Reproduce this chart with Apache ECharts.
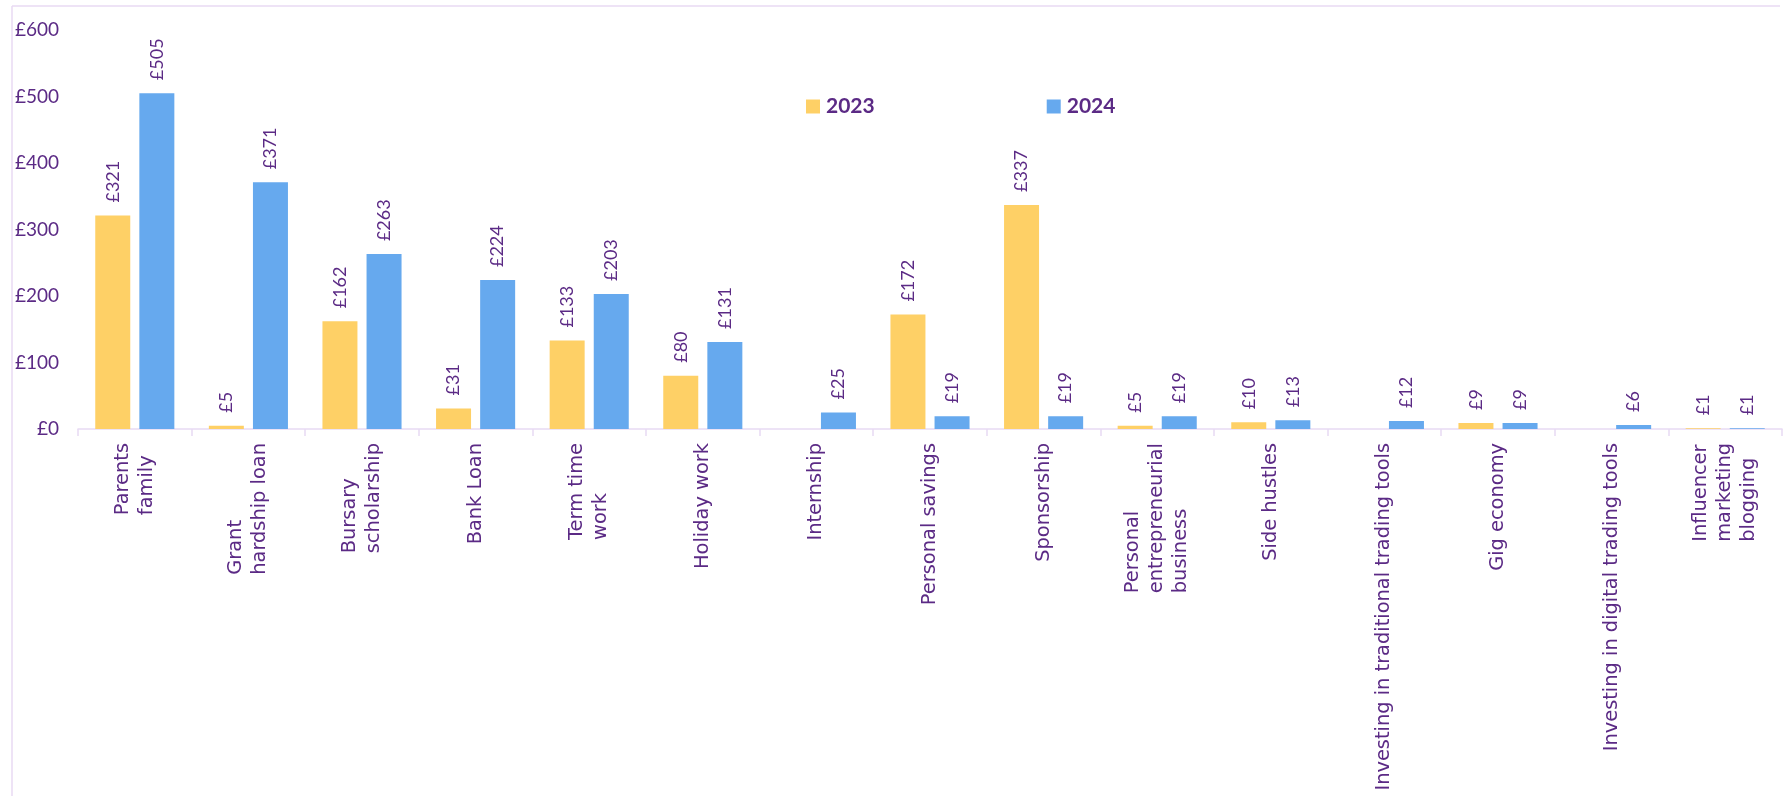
<!DOCTYPE html>
<html>
<head>
<meta charset="utf-8">
<script src="https://cdn.jsdelivr.net/npm/echarts@6/dist/echarts.min.js"></script>
<style>
html,body{margin:0;padding:0;background:#fff;}
#chart{width:1785px;height:796px;}
</style>
</head>
<body>
<div id="chart"></div>
<script>
const categories = [
  "Parents\nfamily",
  "Grant\nhardship loan",
  "Bursary\nscholarship",
  "Bank Loan",
  "Term time\nwork",
  "Holiday work",
  "Internship",
  "Personal savings",
  "Sponsorship",
  "Personal\nentrepreneurial\nbusiness",
  "Side hustles",
  "Investing in traditional trading tools",
  "Gig economy",
  "Investing in digital trading tools",
  "Influencer\nmarketing\nblogging"
];
const values2023 = [321, 5, 162, 31, 133, 80, null, 172, 337, 5, 10, null, 9, null, 1];
const values2024 = [505, 371, 263, 224, 203, 131, 25, 19, 19, 19, 13, 12, 9, 6, 1];
const seriesNames = ["2023", "2024"];
const yTicks = { min: 0, max: 600, interval: 100 };

const PURPLE = '#5B2A85';
const YELLOW = '#FED066';
const BLUE = '#66A9EE';
const LINE = '#E8DAF3';

const chart = echarts.init(document.getElementById('chart'));

const valueLabel = {
  show: true,
  position: 'top',
  rotate: 90,
  align: 'left',
  verticalAlign: 'middle',
  distance: 13,
  color: PURPLE,
  fontFamily: 'Lato',
  fontSize: 18,
  formatter: p => (p.value == null ? '' : '£' + p.value)
};

chart.setOption({
  animation: false,
  backgroundColor: '#fff',
  graphic: [
    { type: 'line', shape: { x1: 12, y1: 6, x2: 1780, y2: 6 }, style: { stroke: LINE, lineWidth: 1.5 } },
    { type: 'line', shape: { x1: 12, y1: 6, x2: 12, y2: 796 }, style: { stroke: LINE, lineWidth: 1.5 } }
  ],
  legend: {
    left: 801,
    top: 91,
    itemWidth: 14,
    itemHeight: 14,
    itemGap: 172,
    icon: 'rect',
    textStyle: { color: PURPLE, fontFamily: 'Lato', fontWeight: 'bold', fontSize: 21, padding: [0, 0, 0, 1] },
    data: seriesNames
  },
  grid: { left: 78, right: 3, top: 30, bottom: 367, containLabel: false, outerBoundsMode: 'none' },
  xAxis: {
    type: 'category',
    data: categories,
    axisLine: { show: true, lineStyle: { color: LINE, width: 1.5 } },
    axisTick: { show: true, length: 7, lineStyle: { color: LINE, width: 1.5 } },
    axisLabel: {
      interval: 0,
      rotate: 90,
      margin: 14,
      color: PURPLE,
      fontFamily: 'DejaVu Sans',
      fontSize: 19.4,
      lineHeight: 24,
      formatter: v => v.split('\n').map(l => '{a|' + l + '}').join('\n'),
      rich: { a: { align: 'left', color: PURPLE, fontFamily: 'DejaVu Sans', fontSize: 19.4, lineHeight: 24 } }
    }
  },
  yAxis: {
    type: 'value',
    min: yTicks.min,
    max: yTicks.max,
    interval: yTicks.interval,
    splitLine: { show: false },
    axisLine: { show: false },
    axisTick: { show: false },
    axisLabel: { color: PURPLE, fontFamily: 'Lato', fontSize: 19, margin: 19, formatter: v => '£' + v }
  },
  series: [
    { name: seriesNames[0], type: 'bar', data: values2023, barWidth: 35, barGap: '26%', itemStyle: { color: YELLOW }, label: valueLabel },
    { name: seriesNames[1], type: 'bar', data: values2024, barWidth: 35, barGap: '26%', itemStyle: { color: BLUE }, label: valueLabel }
  ]
});
</script>
</body>
</html>
